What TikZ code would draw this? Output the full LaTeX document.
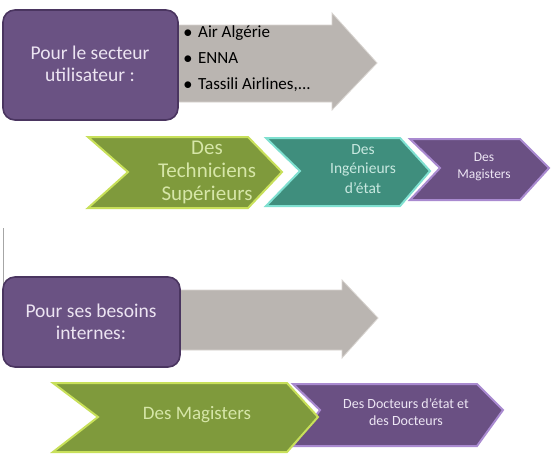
\documentclass[tikz,border=0pt]{standalone}
\usepackage{fontspec}
\setmainfont{Carlito}
\begin{document}
\begin{tikzpicture}[x=1pt,y=-1pt,
  boxfill/.style={fill=boxpurple, draw=boxedge, line width=1.6pt, rounded corners=12pt},
  grayarrow/.style={fill=arrowgray, draw=arrowedge, line width=0.8pt},
  greenchev/.style={fill=chevgreen, draw=chevgreenedge, line width=2pt, line join=miter},
  tealchev/.style={fill=chevteal, draw=chevtealedge, line width=2pt, line join=miter},
  purpchev/.style={fill=chevpurple, draw=chevpurpleedge, line width=2pt, line join=miter},
  boxtext/.style={text=boxtextcol, font=\fontsize{19.5}{22}\selectfont, align=center},
  listtext/.style={text=black, font=\fontsize{17}{26}\selectfont, align=left, anchor=west},
  gtext/.style={text=greentext, align=center},
  ttext/.style={text=tealtext, align=center},
  ptext/.style={text=purpletext, align=center}]
\definecolor{boxpurple}{HTML}{6A5283}
\definecolor{boxedge}{HTML}{4A3560}
\definecolor{arrowgray}{HTML}{BAB5B1}
\definecolor{arrowedge}{HTML}{D8D4D0}
\definecolor{chevgreen}{HTML}{7F9A3C}
\definecolor{chevgreenedge}{HTML}{C8E05A}
\definecolor{chevteal}{HTML}{3F8E7D}
\definecolor{chevtealedge}{HTML}{7FE0D0}
\definecolor{chevpurple}{HTML}{6A5083}
\definecolor{chevpurpleedge}{HTML}{A98AD0}
\definecolor{boxtextcol}{HTML}{ECE4F2}
\definecolor{greentext}{HTML}{D6E6A8}
\definecolor{tealtext}{HTML}{C8E8E0}
\definecolor{purpletext}{HTML}{EDE6F4}
\useasboundingbox (0,0) rectangle (552,461);
\fill[white] (0,0) rectangle (552,461);

% ---------- top section ----------
\draw[grayarrow] (170,25) -- (332,25) -- (332,13) -- (377,63) -- (332,110) -- (332,102) -- (170,102) -- cycle;
\draw[boxfill] (3,10) rectangle (178,120);
\node[boxtext] (secteur) at (90,64) {Pour le secteur\\utilisateur :};
\node[listtext] (l1) at (180,33) {$\bullet$\hspace{6pt}Air Algérie};
\node[listtext] (l2) at (180,58) {$\bullet$\hspace{6pt}ENNA};
\node[listtext] (l3) at (180,85) {$\bullet$\hspace{6pt}Tassili Airlines,...};

\draw[purpchev] (410,139) -- (520,139) -- (549,168) -- (520,200) -- (410,200) -- (440,168) -- cycle;
\draw[tealchev] (266,138) -- (400,138) -- (430,171) -- (400,206) -- (266,206) -- (300,171) -- cycle;
\draw[greenchev] (88,137) -- (248,137) -- (282,172) -- (248,208) -- (88,208) -- (128,172) -- cycle;
\node[gtext, font=\fontsize{21}{23}\selectfont] (tech) at (207,172) {Des\\Techniciens\\Supérieurs};
\node[ttext, font=\fontsize{15.5}{19.5}\selectfont] (ing) at (363,169) {Des\\Ingénieurs\\d'état};
\node[ptext, font=\fontsize{13.5}{17}\selectfont] (mag1) at (484,167) {Des\\Magisters};

% small vertical line
\draw[gray!70, line width=0.6pt] (3,228) -- (3,286);

% ---------- bottom section ----------
\draw[grayarrow] (170,290) -- (342,290) -- (342,280) -- (378,318) -- (342,358) -- (342,350) -- (170,350) -- cycle;
\draw[boxfill] (3,277) rectangle (180,367);
\node[boxtext] (besoins) at (91,322) {Pour ses besoins\\internes:};

\draw[purpchev] (293,384) -- (477,384) -- (503,410) -- (477,446) -- (293,446) -- (320,410) -- cycle;
\draw[greenchev] (53,383) -- (287,383) -- (318,417) -- (287,452) -- (53,452) -- (98,417) -- cycle;
\node[gtext, font=\fontsize{19}{22}\selectfont] (mag2) at (197,415) {Des Magisters};
\node[ptext, font=\fontsize{14}{16.5}\selectfont] (doct) at (406,412) {Des Docteurs d'état et\\des Docteurs};
\end{tikzpicture}
\end{document}
